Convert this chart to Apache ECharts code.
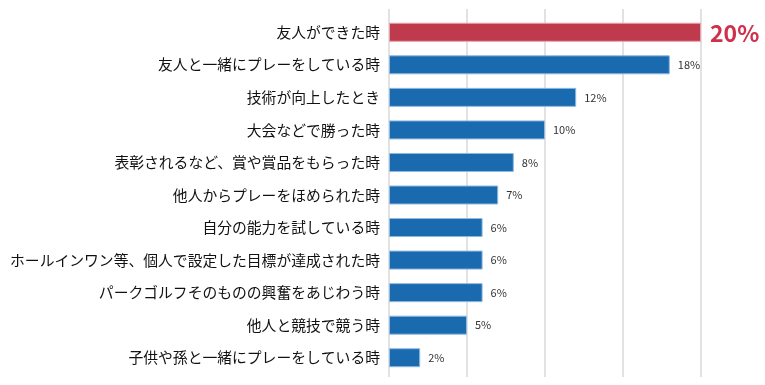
<!DOCTYPE html>
<html><head><meta charset="utf-8">
<script src="https://cdn.jsdelivr.net/npm/echarts@6/dist/echarts.min.js"></script>
<style>html,body{margin:0;padding:0;background:#fff}#c{width:765px;height:385px}</style>
</head><body><div id="c"></div>
<script>
const categories = [
  "友人ができた時",
  "友人と一緒にプレーをしている時",
  "技術が向上したとき",
  "大会などで勝った時",
  "表彰されるなど、賞や賞品をもらった時",
  "他人からプレーをほめられた時",
  "自分の能力を試している時",
  "ホールインワン等、個人で設定した目標が達成された時",
  "パークゴルフそのものの興奮をあじわう時",
  "他人と競技で競う時",
  "子供や孫と一緒にプレーをしている時"
];
const values = [20, 18, 12, 10, 8, 7, 6, 6, 6, 5, 2];
const highlightIndex = 0;

const font = "'Noto Sans CJK JP', 'Noto Sans', sans-serif";
const chart = echarts.init(document.getElementById('c'));
chart.setOption({
  animation: false,
  grid: [
    {left: 389, width: 312, top: 9, bottom: 8, containLabel: false},
    {left: 389, width: 312, top: 16, bottom: 11, containLabel: false}
  ],
  xAxis: [
    {gridIndex: 0, type: 'value', min: 0, max: 20, interval: 5,
     axisLabel: {show: false}, axisLine: {show: false}, axisTick: {show: false},
     splitLine: {show: true, lineStyle: {color: '#e2e2e2', width: 2}}},
    {gridIndex: 1, type: 'value', min: 0, max: 20, interval: 5,
     axisLabel: {show: false}, axisLine: {show: false}, axisTick: {show: false},
     splitLine: {show: false}}
  ],
  yAxis: [
    {gridIndex: 0, type: 'category', data: categories, show: false},
    {gridIndex: 1, type: 'category', data: categories, inverse: true,
     axisLine: {show: false}, axisTick: {show: false},
     axisLabel: {color: '#111', fontSize: 14.8, fontFamily: font, margin: 9}}
  ],
  series: [{
    type: 'bar', xAxisIndex: 1, yAxisIndex: 1,
    barWidth: 19,
    data: values.map((v, i) => i === highlightIndex ? {
      value: v,
      itemStyle: {color: '#be3a4c', borderColor: '#e8a0aa', borderWidth: 1},
      label: {color: '#d0314a', fontSize: 23, fontWeight: 'bold', offset: [0, 1], distance: 9}
    } : v),
    itemStyle: {color: '#1a6ab0', borderColor: '#8fb9e0', borderWidth: 1},
    label: {show: true, position: 'right', distance: 8, formatter: '{c}%',
            color: '#333', fontSize: 11, fontFamily: font}
  }]
});
</script></body></html>
